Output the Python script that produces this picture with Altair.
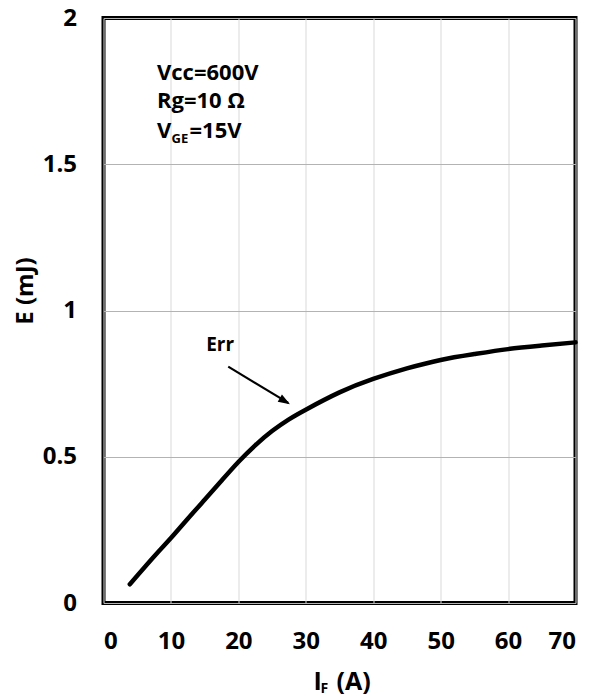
import altair as alt
import pandas as pd

# ---- data ----
i_f = [3.9, 7.5, 10, 12.5, 15, 17.5, 20, 22.5, 25, 27.5, 30, 35, 40, 45, 50, 55, 60, 65, 70]
e_rr = [0.064, 0.159, 0.222, 0.288, 0.353, 0.418, 0.482, 0.539, 0.588, 0.628, 0.661, 0.720, 0.766, 0.802, 0.831, 0.851, 0.868, 0.880, 0.891]

x_ticks = [0, 10, 20, 30, 40, 50, 60, 70]
y_ticks = [0, 0.5, 1, 1.5, 2]

cond_text = ["Vcc=600V", "Rg=10 Ω"]
cond_x = [7.93, 7.93]
cond_y = [1.811, 1.715]

vge_main = ["V", "=15V"]
vge_main_x = [7.93, 12.75]
vge_y = 1.613
vge_sub = ["GE"]
vge_sub_x = [10.1]
vge_sub_y = 1.585

label_text = ["Err"]
label_x = [17.3]
label_y = [0.883]

arrow_x = [18.5]
arrow_y = [0.808]
arrow_x2 = [27.4]
arrow_y2 = [0.684]
head_x = [26.9]
head_y = [0.690]

W, H = 472, 585
FONT = "Open Sans"

x_scale = alt.Scale(domain=[0, 70], nice=False)
y_scale = alt.Scale(domain=[0, 2], nice=False)

curve_df = pd.DataFrame({"IF": i_f, "E": e_rr})

line = alt.Chart(curve_df).mark_line(
    color="black", strokeWidth=4.5, strokeCap="round", interpolate="natural"
).encode(
    x=alt.X("IF:Q", scale=x_scale, axis=alt.Axis(
        values=x_ticks, title=None, grid=True, gridColor="#d9d9d9", gridWidth=1,
        ticks=False, domain=False, labelFont=FONT, labelFontWeight="bold",
        labelFontSize=24, labelPadding=26, labelColor="black")),
    y=alt.Y("E:Q", scale=y_scale, axis=alt.Axis(
        values=y_ticks, format="~g", title=None, grid=True, gridColor="#b3b3b3", gridWidth=1,
        ticks=False, domain=False, labelFont=FONT, labelFontWeight="bold",
        labelFontSize=24, labelPadding=27, labelColor="black")),
)

TXT = dict(font=FONT, fontWeight="bold", align="left", baseline="middle", color="black")

cond_df = pd.DataFrame({"x": cond_x, "y": cond_y, "t": cond_text})
cond = alt.Chart(cond_df).mark_text(fontSize=22, **TXT).encode(
    x=alt.X("x:Q", scale=x_scale), y=alt.Y("y:Q", scale=y_scale), text="t:N")

vge_df = pd.DataFrame({"x": vge_main_x, "y": [vge_y] * len(vge_main), "t": vge_main})
vge = alt.Chart(vge_df).mark_text(fontSize=22, **TXT).encode(
    x=alt.X("x:Q", scale=x_scale), y=alt.Y("y:Q", scale=y_scale), text="t:N")

vsub_df = pd.DataFrame({"x": vge_sub_x, "y": [vge_sub_y], "t": vge_sub})
vsub = alt.Chart(vsub_df).mark_text(fontSize=13, **TXT).encode(
    x=alt.X("x:Q", scale=x_scale), y=alt.Y("y:Q", scale=y_scale), text="t:N")

lab_df = pd.DataFrame({"x": label_x, "y": label_y, "t": label_text})
lab = alt.Chart(lab_df).mark_text(
    font=FONT, fontWeight="bold", fontSize=19, align="center", baseline="middle", color="black"
).encode(x=alt.X("x:Q", scale=x_scale), y=alt.Y("y:Q", scale=y_scale), text="t:N")

arr_df = pd.DataFrame({"x": arrow_x, "y": arrow_y, "x2": arrow_x2, "y2": arrow_y2})
arrow = alt.Chart(arr_df).mark_rule(color="black", strokeWidth=2.2).encode(
    x=alt.X("x:Q", scale=x_scale), y=alt.Y("y:Q", scale=y_scale), x2="x2:Q", y2="y2:Q")

head_df = pd.DataFrame({"x": head_x, "y": head_y})
head = alt.Chart(head_df).mark_point(
    shape="M-0.7,1L0,-1L0.7,1Z", filled=True, color="black", opacity=1, size=140, angle=121
).encode(x=alt.X("x:Q", scale=x_scale), y=alt.Y("y:Q", scale=y_scale))

# axis titles (with subscripts) as text
xt_main = alt.Chart(pd.DataFrame({"t": ["I"]})).mark_text(fontSize=25, **TXT).encode(
    text="t:N", x=alt.value(210), y=alt.value(664))
xt_sub = alt.Chart(pd.DataFrame({"t": ["F"]})).mark_text(fontSize=14, **TXT).encode(
    text="t:N", x=alt.value(217), y=alt.value(671))
xt_rest = alt.Chart(pd.DataFrame({"t": ["(A)"]})).mark_text(fontSize=25, **TXT).encode(
    text="t:N", x=alt.value(233), y=alt.value(664))

yt = alt.Chart(pd.DataFrame({"t": ["E  (mJ)"]})).mark_text(
    font=FONT, fontWeight="bold", fontSize=24, align="center", baseline="middle",
    angle=270, color="black"
).encode(text="t:N", x=alt.value(-78), y=alt.value(273))

chart = alt.layer(line, arrow, head, cond, vge, vsub, lab, xt_main, xt_sub, xt_rest, yt).properties(
    width=W, height=H,
    padding={"left": 95.5, "top": 10, "right": 12, "bottom": 95},
    autosize=alt.AutoSizeParams(type="none"),
    background="white",
).configure_view(stroke="black", strokeWidth=4)

chart.save("out.html", embed_options={"renderer": "svg", "actions": False})
